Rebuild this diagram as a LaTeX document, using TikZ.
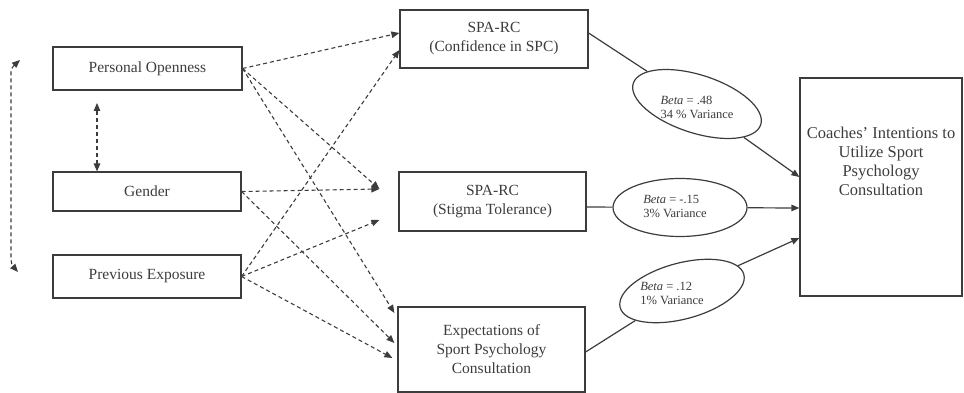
\documentclass[tikz,border=0pt]{standalone}
\usepackage{fontspec}
\setmainfont{Liberation Serif}
\usepackage{tikz}
\usetikzlibrary{arrows,arrows.meta,shapes,positioning}
\definecolor{ink}{HTML}{3C3C3C}
\tikzset{
  var/.style={draw=ink, line width=1.2pt, align=center, text=ink, inner sep=0pt, font=\fontsize{15.5}{19}\selectfont},
  est/.style={draw=ink, line width=1.2pt, ellipse, inner sep=0pt, minimum width=134pt, minimum height=58pt},
  esttext/.style={align=left, text=ink, inner sep=0pt, font=\fontsize{12.5}{14}\selectfont},
  dasharrow/.style={draw=ink, line width=1.1pt, dash pattern=on 4pt off 3pt},
  pathline/.style={draw=ink, line width=1.2pt},
}

\begin{document}
\begin{tikzpicture}[x=1pt, y=-1pt, >={Triangle[length=8pt,width=6.5pt]}]
      \useasboundingbox (0,0) rectangle (964,393);
      \node[var, minimum width=189pt, minimum height=43pt] (po) at (147.5,68.5) {Personal Openness};
      \node[var, minimum width=188pt, minimum height=39pt] (gen) at (147,191.5) {Gender};
      \node[var, minimum width=188pt, minimum height=43pt] (pe) at (147,276.5) {Previous Exposure};
      \node[var, minimum width=188pt, minimum height=58pt] (conf) at (494,39) {SPA-RC\\(Confidence in SPC)};
      \node[var, minimum width=187pt, minimum height=59pt] (stig) at (492.5,201.5) {SPA-RC\\(Stigma Tolerance)};
      \node[var, minimum width=187pt, minimum height=85pt] (expt) at (491.5,349.5) {Expectations of\\Sport Psychology\\Consultation};
      \node[var, minimum width=162pt, minimum height=218pt] (coach) at (881,187) {};
      \node[text=ink, align=center, font=\fontsize{16.5}{19}\selectfont] (coachtxt) at (881,161) {Coaches' Intentions to\\Utilize Sport\\Psychology\\Consultation};
      % ellipses
      \node[est, rotate=-18] (e1) at (697,104) {};
      \node[est] (e2) at (680,207.5) {};
      \node[est, minimum width=128pt, minimum height=56pt, rotate=15] (e3) at (682,291) {};
      \node[esttext] (e1txt) at (697,107) {\textit{Beta} = .48\\34 \% Variance};
      \node[esttext] (e2txt) at (675,206) {\textit{Beta} = -.15\\3\% Variance};
      \node[esttext] (e3txt) at (672,293) {\textit{Beta} = .12\\1\% Variance};
      % arrow ends
      \coordinate (conf-a) at ([yshift=6pt]conf.west);
      \coordinate (conf-b) at ([yshift=-11pt]conf.west);
      \coordinate (stig-a) at ([xshift=-19pt,yshift=12.5pt]stig.west);
      \coordinate (stig-b) at ([xshift=-19pt,yshift=-18.5pt]stig.west);
      \coordinate (expt-a) at ([xshift=-3pt,yshift=36.5pt]expt.west);
      \coordinate (expt-b) at ([xshift=-3pt,yshift=6.5pt]expt.west);
      \coordinate (expt-c) at ([xshift=-5pt,yshift=-8.5pt]expt.west);
      \coordinate (coach-a) at ([yshift=10pt]coach.west);
      \coordinate (coach-b) at ([yshift=-21pt]coach.west);
      \coordinate (coach-c) at ([yshift=-51pt]coach.west);
      \coordinate (lt) at (20,60); % top
      \coordinate (lb) at (18,272); % bottom
      \coordinate (pogap) at (97,103);
      % correlations
      \draw[dasharrow, <->, rounded corners=4pt] (lt) -- ++(-9,8) -- ++(0,196) -- (lb);
      \draw[dasharrow, <->] (pogap) -- (pogap |- gen.north);
      % paths
      \draw[dasharrow, ->] (po.east) -- (conf-a);
      \draw[dasharrow, ->] (po.east) -- (stig-a);
      \draw[dasharrow, ->] (po.east) -- (expt-a);
      \draw[dasharrow, ->] (gen.east) -- (stig-a);
      \draw[dasharrow, ->] (gen.east) -- (expt-b);
      \draw[dasharrow, ->] (pe.east) -- (conf-b);
      \draw[dasharrow, ->] (pe.east) -- (stig-b);
      \draw[dasharrow, ->] (pe.east) -- (expt-c);
      \draw[pathline] ([yshift=6pt]conf.east) -- (e1);
      \draw[pathline, ->] (e1) -- (coach-a);
      \draw[pathline] ([yshift=-5.5pt]stig.east) -- (e2);
      \draw[pathline, ->] (e2) -- (coach-b);
      \draw[pathline] ([yshift=-2.5pt]expt.east) -- (e3);
      \draw[pathline, ->] (e3) -- (coach-c);
\end{tikzpicture}
\end{document}
